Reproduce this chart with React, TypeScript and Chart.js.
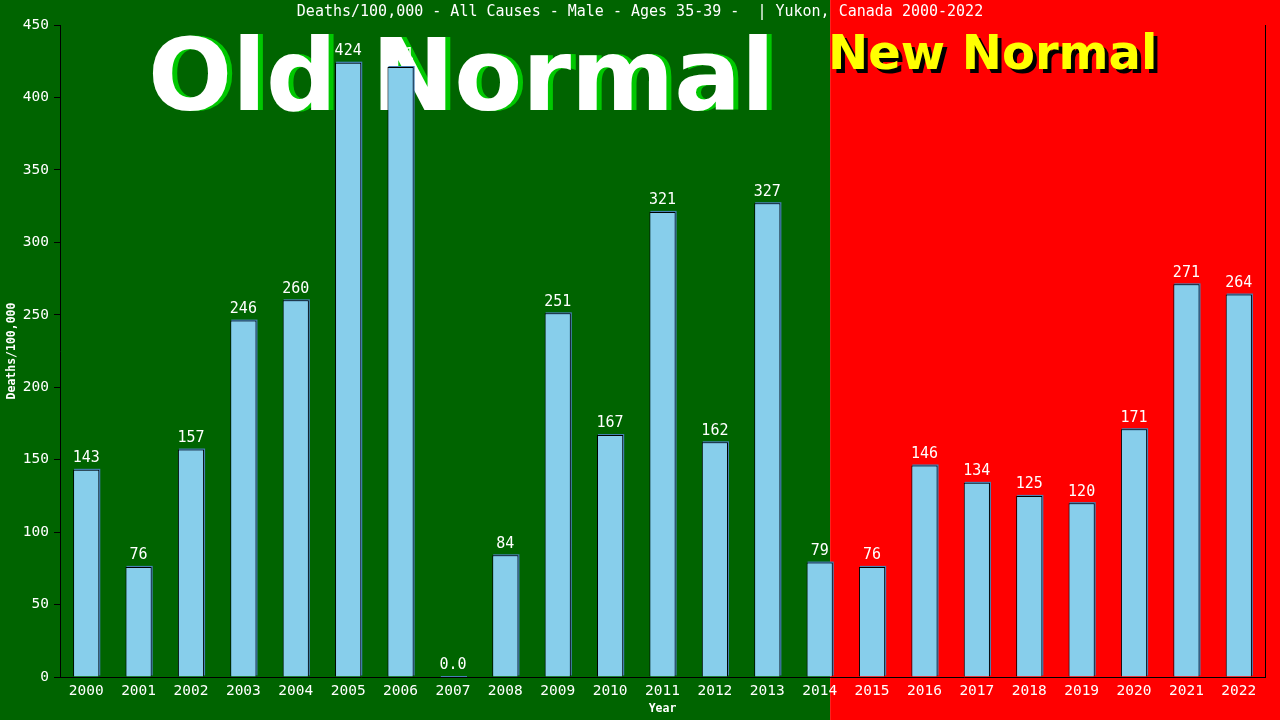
import { useEffect, useRef } from 'react';
import { Chart, registerables, Plugin } from 'chart.js';

Chart.register(...registerables);

// Данные
const YEARS = [
  '2000', '2001', '2002', '2003', '2004', '2005', '2006', '2007', '2008', '2009', '2010', '2011',
  '2012', '2013', '2014', '2015', '2016', '2017', '2018', '2019', '2020', '2021', '2022'
];
const DEATH_RATES = [
  143, 76, 157, 246, 260, 424, 421, 0, 84, 251, 167, 321,
  162, 327, 79, 76, 146, 134, 125, 120, 171, 271, 264
];
const Y_TICKS = [0, 50, 100, 150, 200, 250, 300, 350, 400, 450];

const TITLE = 'Deaths/100,000 - All Causes - Male - Ages 35-39 -  | Yukon, Canada 2000-2022';
const Y_TITLE = 'Deaths/100,000';
const X_TITLE = 'Year';
const OLD_LABEL = 'Old Normal';
const NEW_LABEL = 'New Normal';
// индекс, где начинается «новая норма» (с небольшим сдвигом)
const SPLIT_AT = 14.2;

const MONO = "'DejaVu Sans Mono', monospace";
const SANS = "'DejaVu Sans', sans-serif";

const backgroundPlugin: Plugin<'bar'> = {
  id: 'splitBackground',
  beforeDraw(chart) {
    const { ctx, width, height } = chart;
    const x = chart.scales.x;
    const i = Math.floor(SPLIT_AT);
    const p0 = x.getPixelForValue(i);
    const p1 = x.getPixelForValue(i + 1);
    const split = p0 + (p1 - p0) * (SPLIT_AT - i);
    ctx.save();
    ctx.fillStyle = '#006400';
    ctx.fillRect(0, 0, split, height);
    ctx.fillStyle = '#ff0000';
    ctx.fillRect(split, 0, width - split, height);
    ctx.restore();
  },
  beforeDatasetsDraw(chart) {
    const { ctx } = chart;
    ctx.save();
    // большие надписи
    ctx.textBaseline = 'alphabetic';
    ctx.textAlign = 'left';
    ctx.font = `bold 99px ${SANS}`;
    ctx.fillStyle = '#00c800';
    ctx.fillText(OLD_LABEL, 153, 110);
    ctx.fillStyle = '#ffffff';
    ctx.fillText(OLD_LABEL, 148, 110);

    ctx.font = `bold 48px ${SANS}`;
    ctx.fillStyle = '#000000';
    ctx.fillText(NEW_LABEL, 832, 73);
    ctx.fillStyle = '#ffff00';
    ctx.fillText(NEW_LABEL, 828, 69);

    // тень столбцов
    const meta = chart.getDatasetMeta(0);
    ctx.fillStyle = '#4682b4';
    meta.data.forEach((bar: any) => {
      const { x, y, base, width } = bar.getProps(['x', 'y', 'base', 'width'], true);
      const h = Math.max(base - y, 1);
      ctx.fillRect(x - width / 2 + 1, y - 1, width, h);
    });
    ctx.restore();
  },
  afterDatasetsDraw(chart) {
    const { ctx, chartArea } = chart;
    const meta = chart.getDatasetMeta(0);
    ctx.save();
    ctx.fillStyle = '#ffffff';
    ctx.font = `15px ${MONO}`;
    ctx.textAlign = 'center';
    ctx.textBaseline = 'bottom';
    meta.data.forEach((bar: any, idx: number) => {
      const v = DEATH_RATES[idx];
      ctx.fillText(v === 0 ? '0.0' : String(v), bar.x, bar.y - 4);
    });

    // правая рамка
    ctx.strokeStyle = '#000000';
    ctx.lineWidth = 1;
    ctx.beginPath();
    ctx.moveTo(Math.round(chartArea.right) + 0.5, chartArea.top);
    ctx.lineTo(Math.round(chartArea.right) + 0.5, chartArea.bottom);
    ctx.stroke();

    // заголовки
    ctx.textBaseline = 'middle';
    ctx.font = `15px ${MONO}`;
    ctx.fillText(TITLE, 640, 12);
    ctx.font = `bold 11.5px ${MONO}`;
    ctx.fillText(X_TITLE, (chartArea.left + chartArea.right) / 2, 709);
    ctx.translate(12, (chartArea.top + chartArea.bottom) / 2);
    ctx.rotate(-Math.PI / 2);
    ctx.fillText(Y_TITLE, 0, 0);
    ctx.restore();
  }
};

const DeathsChart: React.FC = () => {
  const canvasRef = useRef<HTMLCanvasElement>(null);
  const chartRef = useRef<Chart | null>(null);

  useEffect(() => {
    document.body.style.margin = '0';
    if (!canvasRef.current) return;
    const ctx = canvasRef.current.getContext('2d');
    if (!ctx) return;

    chartRef.current = new Chart(ctx, {
      type: 'bar',
      data: {
        labels: YEARS,
        datasets: [
          {
            data: DEATH_RATES,
            backgroundColor: '#87ceeb',
            borderColor: '#000000',
            borderWidth: 1,
            barPercentage: 0.5,
            categoryPercentage: 1.0
          }
        ]
      },
      options: {
        animation: false,
        responsive: false,
        maintainAspectRatio: false,
        layout: { padding: { top: 25, right: 15, left: 0, bottom: 0 } },
        plugins: {
          legend: { display: false },
          title: { display: false },
          tooltip: { enabled: false }
        },
        scales: {
          x: {
            afterFit: (scale) => { scale.height = 43; },
            grid: { display: true, drawOnChartArea: false, drawTicks: false },
            border: { color: '#000000', width: 1 },
            ticks: {
              color: '#ffffff',
              padding: 6,
              maxRotation: 0,
              autoSkip: false,
              font: { family: MONO, size: 14.5 }
            }
          },
          y: {
            min: 0,
            max: 450,
            afterFit: (scale) => { scale.width = 60; },
            afterBuildTicks: (scale) => { scale.ticks = Y_TICKS.map(v => ({ value: v })); },
            grid: { display: true, drawOnChartArea: false, color: '#000000', tickLength: 6 },
            border: { color: '#000000', width: 1 },
            ticks: {
              color: '#ffffff',
              padding: 5,
              font: { family: MONO, size: 14.5 }
            }
          }
        }
      },
      plugins: [backgroundPlugin]
    });

    return () => {
      chartRef.current?.destroy();
      chartRef.current = null;
    };
  }, []);

  return (
    <div style={{ width: 1280, height: 720 }}>
      <canvas ref={canvasRef} width={1280} height={720} />
    </div>
  );
};

export default function App() {
  return <DeathsChart />;
}
